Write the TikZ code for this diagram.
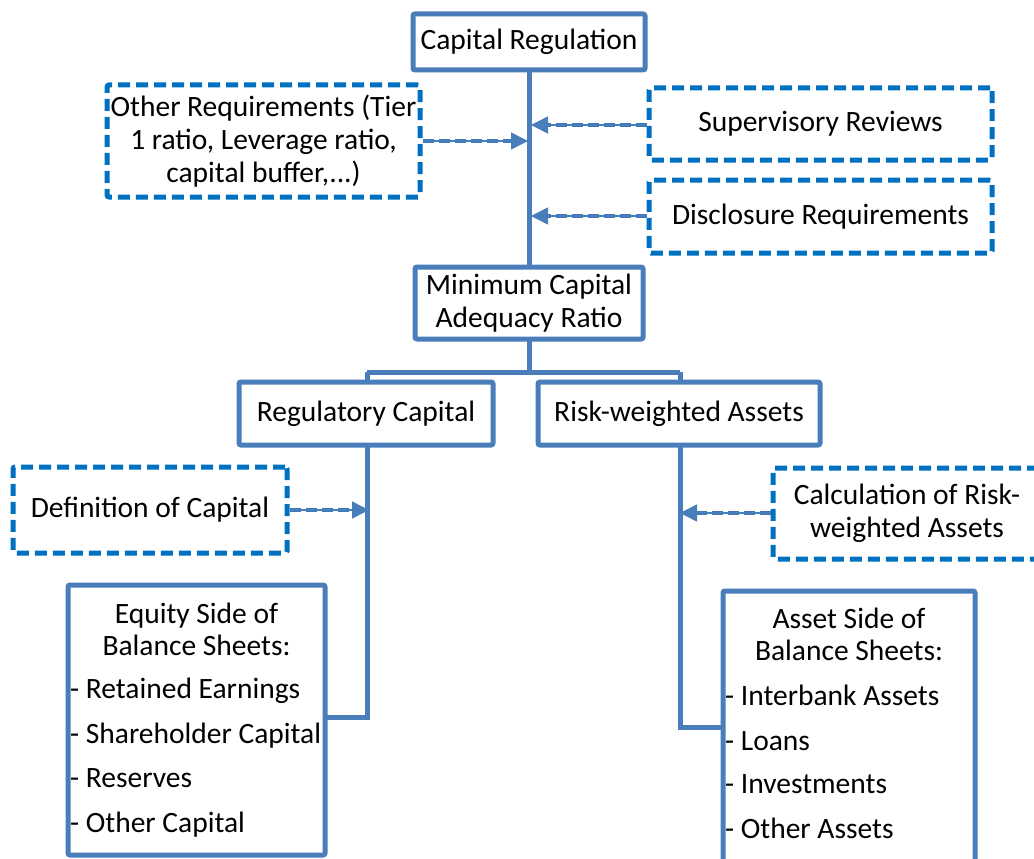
\documentclass[tikz,border=0pt]{standalone}
\usepackage{fontspec}
\setmainfont{Carlito}
\usetikzlibrary{arrows.meta}
\definecolor{boxblue}{RGB}{74,126,187}
\definecolor{dashblue}{RGB}{0,112,192}
\definecolor{arrblue}{RGB}{60,120,190}
\tikzset{
  solidbox/.style={draw=boxblue, line width=5pt, rounded corners=2pt, fill=white, inner sep=0pt, align=center, font=\fontsize{29.5}{33}\selectfont},
  dashbox/.style={draw=dashblue, line width=5pt, dash pattern=on 12pt off 6pt, rounded corners=2pt, fill=white, inner sep=0pt, align=center, font=\fontsize{29.5}{33}\selectfont},
  conn/.style={draw=boxblue, line width=5pt},
  arrthin/.style={draw=boxblue, line width=1.5pt, -{Triangle[length=17pt,width=17pt]}},
  arrdash/.style={draw=arrblue, line width=4pt, dash pattern=on 11pt off 5pt, shorten >=14pt},
  txt/.style={inner sep=0pt, font=\fontsize{29.5}{33}\selectfont}
}
\begin{document}
\begin{tikzpicture}[x=1pt,y=-1pt]
\useasboundingbox (0,0) rectangle (1034,859);
\clip (0,0) rectangle (1034,859);
\fill[white] (0,0) rectangle (1034,859);

% coordinates
\coordinate (jmid) at (529,372);
\coordinate (jl) at (367,372);
\coordinate (jr) at (680,372);
\coordinate (aOR) at (528,141);
\coordinate (aSR) at (531,125);
\coordinate (aDR) at (531,216);
\coordinate (aDef) at (369,510);
\coordinate (aCalc) at (680,513);
\coordinate (eqc) at (367,717);
\coordinate (asc) at (680,727);

% connectors (behind boxes)
\draw[conn] (529,60) -- (529,280);
\draw[conn] (529,330) -- (jmid);
\draw[conn] (jl) -- (jr);
\draw[conn] (jl) -- (367,395);
\draw[conn] (jr) -- (680,395);
\draw[conn] (367,440) -- (eqc) -- (320,717);
\draw[conn] (680,440) -- (asc) -- (728,727);

% boxes
\node[solidbox, minimum width=232pt, minimum height=56pt] (cr) at (529,42) {Capital Regulation};
\node[dashbox, minimum width=313pt, minimum height=112pt] (or) at (263.5,141) {Other Requirements (Tier\\1 ratio, Leverage ratio,\\capital buffer,...)};
\node[dashbox, minimum width=343pt, minimum height=72pt] (sr) at (820.5,124) {Supervisory Reviews};
\node[dashbox, minimum width=343pt, minimum height=73pt] (dr) at (820.5,216.5) {Disclosure Requirements};
\node[solidbox, minimum width=228pt, minimum height=72pt] (mcar) at (529,303) {Minimum Capital\\Adequacy Ratio};
\node[solidbox, minimum width=254pt, minimum height=63pt] (rc) at (366,413.5) {Regulatory Capital};
\node[solidbox, minimum width=282pt, minimum height=63pt] (rwa) at (679,413.5) {Risk-weighted Assets};
\node[dashbox, minimum width=274pt, minimum height=86pt] (def) at (150,510) {Definition of Capital};
\node[dashbox, minimum width=268pt, minimum height=91pt] (calc) at (907,513.5) {Calculation of Risk-\\weighted Assets};
\node[solidbox, minimum width=257pt, minimum height=270pt] (eq) at (196.5,720) {};
\node[solidbox, minimum width=252pt, minimum height=300pt] (as) at (849,741) {};

% box texts
\node[txt, anchor=base] (eqh1) at (196.5,623) {Equity Side of};
\node[txt, anchor=base] (eqh2) at (196.5,655) {Balance Sheets:};
\node[txt, anchor=base west] (eq1) at (70,698) {- Retained Earnings};
\node[txt, anchor=base west] (eq2) at (70,743) {- Shareholder Capital};
\node[txt, anchor=base west] (eq3) at (70,787) {- Reserves};
\node[txt, anchor=base west] (eq4) at (70,832) {- Other Capital};
\node[txt, anchor=base] (ash1) at (849,628) {Asset Side of};
\node[txt, anchor=base] (ash2) at (849,660) {Balance Sheets:};
\node[txt, anchor=base west] (as1) at (725,705) {- Interbank Assets};
\node[txt, anchor=base west] (as2) at (725,750) {- Loans};
\node[txt, anchor=base west] (as3) at (725,793) {- Investments};
\node[txt, anchor=base west] (as4) at (725,838) {- Other Assets};

% dashed arrows
\draw[arrdash] (or.east |- aOR) -- (aOR);
\draw[arrthin] (or.east |- aOR) -- (aOR);
\draw[arrdash] (sr.west |- aSR) -- (aSR);
\draw[arrthin] (sr.west |- aSR) -- (aSR);
\draw[arrdash] (dr.west |- aDR) -- (aDR);
\draw[arrthin] (dr.west |- aDR) -- (aDR);
\draw[arrdash] (def.east |- aDef) -- (aDef);
\draw[arrthin] (def.east |- aDef) -- (aDef);
\draw[arrdash] (calc.west |- aCalc) -- (aCalc);
\draw[arrthin] (calc.west |- aCalc) -- (aCalc);
\end{tikzpicture}
\end{document}
